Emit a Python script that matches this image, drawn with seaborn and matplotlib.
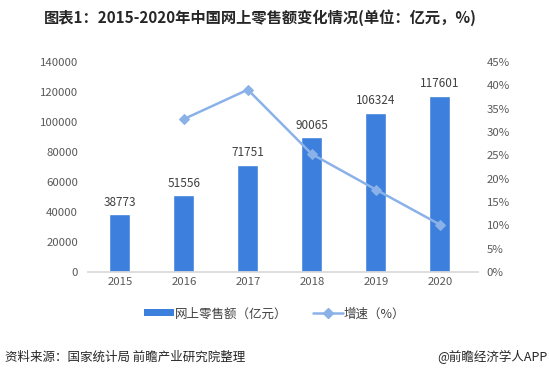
import numpy as np
import pandas as pd
import matplotlib
matplotlib.use("Agg")
import matplotlib.pyplot as plt
import seaborn as sns
from matplotlib.patches import Patch
from matplotlib.lines import Line2D

years = ["2015", "2016", "2017", "2018", "2019", "2020"]
sales = [38773, 51556, 71751, 90065, 106324, 117601]
growth_years = ["2016", "2017", "2018", "2019", "2020"]
growth = [32.8, 39.1, 25.3, 17.7, 10.2]
left_ticks = [0, 20000, 40000, 60000, 80000, 100000, 120000, 140000]
right_ticks = [0, 5, 10, 15, 20, 25, 30, 35, 40, 45]

sns.set_theme(style="white")
plt.rcParams['font.family'] = ['Noto Sans CJK SC', 'DejaVu Sans']

bar_color = "#3C7FDC"
line_color = "#8AB2E8"
tick_color = "#595959"

fig = plt.figure(figsize=(5.49, 3.79), dpi=100)
ax = fig.add_axes([0.160, 0.282, 0.711, 0.554])

df = pd.DataFrame({"year": years, "sales": sales})
sns.barplot(data=df, x="year", y="sales", order=years, color=bar_color,
            width=0.33, saturation=1, ax=ax)
ax.set_ylim(0, 140000)
ax.set_yticks(left_ticks)
ax.set_xlim(-0.5, 5.6)
ax.set_xlabel("")
ax.set_ylabel("")
for i, v in enumerate(sales):
    ax.text(i, v + 3500, str(v), ha="center", va="bottom", fontsize=8.5, color="#404040")

for s in ["top", "right", "left"]:
    ax.spines[s].set_visible(False)
ax.spines["bottom"].set_color("#D9D9D9")
ax.tick_params(axis="both", length=0, labelsize=8.2, colors=tick_color)
ax.tick_params(axis="y", pad=7)

ax2 = ax.twinx()
pos = [years.index(y) for y in growth_years]
gdf = pd.DataFrame({"pos": pos, "growth": growth})
sns.lineplot(data=gdf, x="pos", y="growth", ax=ax2, color=line_color, linewidth=1.8,
             marker="D", markersize=5.5, markeredgecolor=line_color)
ax2.set_ylim(0, 45)
ax2.set_yticks(right_ticks)
ax2.set_yticklabels([f"{t}%" for t in right_ticks])
ax2.set_ylabel("")
ax2.set_xlabel("")
for s in ["top", "right", "left", "bottom"]:
    ax2.spines[s].set_visible(False)
ax2.tick_params(axis="y", length=0, labelsize=8.2, colors=tick_color, pad=6)
ax2.set_xlim(-0.5, 5.6)

fig.text(0.474, 0.953, "图表1：2015-2020年中国网上零售额变化情况(单位：亿元，%)",
         ha="center", va="center", fontsize=11, fontweight="bold", color="#262626")

handles = [Patch(facecolor=bar_color, edgecolor="none"),
           Line2D([0], [0], color=line_color, linewidth=1.8, marker="D", markersize=5)]
leg = fig.legend(handles, ["网上零售额（亿元）", "增速（%）"], loc="center",
                 bbox_to_anchor=(0.5, 0.172), ncol=2, frameon=False, fontsize=9,
                 handlelength=2.4, handleheight=0.5, handletextpad=0.1, columnspacing=2.0)
for t in leg.get_texts():
    t.set_color("#404040")

fig.text(0.009, 0.058, "资料来源：国家统计局 前瞻产业研究院整理", ha="left", va="center",
         fontsize=9, color="#262626")
fig.text(0.998, 0.058, "@前瞻经济学人APP", ha="right", va="center",
         fontsize=9, color="#262626")

fig.savefig("out.png", dpi=100)
